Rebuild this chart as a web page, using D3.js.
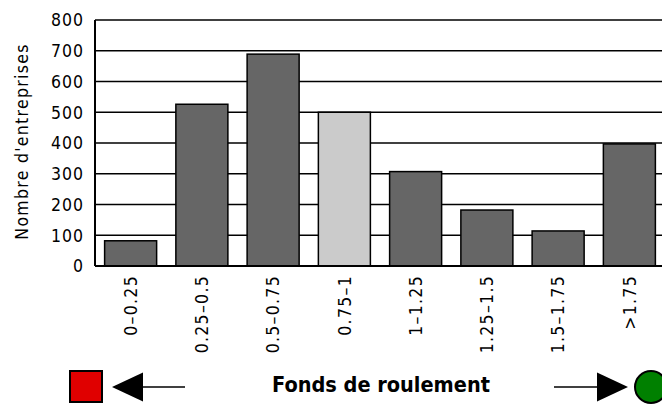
<!DOCTYPE html>
<html>
<head>
<meta charset="utf-8">
<script src="https://cdn.jsdelivr.net/npm/d3@7"></script>
<style>
  body { margin: 0; background: #fff; }
  svg { display: block; }
  text { font-family: "DejaVu Sans Condensed", "DejaVu Sans", sans-serif; fill: #000; }
</style>
</head>
<body>
<svg id="chart" width="662" height="404"></svg>
<script>
// data
var categories = ["0–0.25", "0.25–0.5", "0.5–0.75", "0.75–1", "1–1.25", "1.25–1.5", "1.5–1.75", ">1.75"];
var counts = [82, 526, 689, 500, 307, 182, 114, 397];
var highlighted = ["0.75–1"];
var yTicks = [0, 100, 200, 300, 400, 500, 600, 700, 800];

var svg = d3.select("#chart");

// plot area (runs past the right edge, like the original)
var plotLeft = 95, plotTop = 20, plotBottom = 266, plotRight = 665;

var x = d3.scaleBand()
    .domain(categories)
    .range([plotLeft, plotRight])
    .paddingInner(0.27)
    .paddingOuter(0.135);

var y = d3.scaleLinear()
    .domain([0, 800])
    .range([plotBottom, plotTop]);

// horizontal grid lines
svg.append("g")
    .selectAll("line")
    .data(yTicks)
    .enter()
    .append("line")
    .attr("x1", plotLeft)
    .attr("x2", 662)
    .attr("y1", function (d) { return y(d) })
    .attr("y2", function (d) { return y(d) })
    .attr("stroke", "#000")
    .attr("stroke-width", 1.3)

// bars
svg.append("g")
    .selectAll("rect")
    .data(counts)
    .enter()
    .append("rect")
    .attr("x", function (d, i) { return x(categories[i]) })
    .attr("y", function (d) { return y(d) })
    .attr("width", x.bandwidth())
    .attr("height", function (d) { return y(0) - y(d) })
    .attr("fill", function (d, i) { return highlighted.indexOf(categories[i]) >= 0 ? "#cbcbcb" : "#666666" })
    .attr("stroke", "#000")
    .attr("stroke-width", 1.5)

// left axis line + bottom line
svg.append("line")
    .attr("x1", plotLeft).attr("x2", plotLeft)
    .attr("y1", plotTop).attr("y2", plotBottom)
    .attr("stroke", "#000").attr("stroke-width", 2)
svg.append("line")
    .attr("x1", plotLeft).attr("x2", 662)
    .attr("y1", plotBottom).attr("y2", plotBottom)
    .attr("stroke", "#000").attr("stroke-width", 2)

// y tick labels
svg.append("g")
    .selectAll("text")
    .data(yTicks)
    .enter()
    .append("text")
    .attr("x", 84)
    .attr("y", function (d) { return y(d) })
    .attr("dy", "0.36em")
    .attr("text-anchor", "end")
    .style("font-size", "17.5px")
    .style("letter-spacing", "1px")
    .text(function (d) { return d })

// y axis title
svg.append("text")
    .attr("transform", "translate(28,141.5) rotate(-90)")
    .attr("text-anchor", "middle")
    .style("font-size", "17.5px")
    .style("letter-spacing", "1.3px")
    .text("Nombre d'entreprises")

// x tick labels, vertical
svg.append("g")
    .selectAll("text")
    .data(categories)
    .enter()
    .append("text")
    .attr("transform", function (d) {
        return "translate(" + (x(d) + x.bandwidth() / 2) + ",275) rotate(-90)"
    })
    .attr("text-anchor", "end")
    .attr("dy", "0.36em")
    .style("font-size", "17.5px")
    .style("letter-spacing", "1.3px")
    .text(function (d) { return d })

// bottom legend: red square, arrows, title, green circle
var midY = 387;
svg.append("rect")
    .attr("x", 70).attr("y", 371)
    .attr("width", 32).attr("height", 31)
    .attr("fill", "#e00000")
    .attr("stroke", "#000").attr("stroke-width", 2)

svg.append("path")
    .attr("d", "M112," + midY + " L143," + (midY - 14.5) + " L143," + (midY + 14.5) + " Z")
    .attr("fill", "#000")
svg.append("line")
    .attr("x1", 143).attr("x2", 185)
    .attr("y1", midY).attr("y2", midY)
    .attr("stroke", "#000").attr("stroke-width", 1.3)

svg.append("line")
    .attr("x1", 554).attr("x2", 597)
    .attr("y1", midY).attr("y2", midY)
    .attr("stroke", "#000").attr("stroke-width", 1.3)
svg.append("path")
    .attr("d", "M628," + midY + " L597," + (midY - 14.5) + " L597," + (midY + 14.5) + " Z")
    .attr("fill", "#000")

svg.append("circle")
    .attr("cx", 651).attr("cy", midY)
    .attr("r", 16)
    .attr("fill", "#008000")
    .attr("stroke", "#000").attr("stroke-width", 2)

svg.append("text")
    .attr("x", 381)
    .attr("y", 392)
    .attr("text-anchor", "middle")
    .style("font-size", "21.5px")
    .style("font-weight", "bold")
    .text("Fonds de roulement")
</script>
</body>
</html>
